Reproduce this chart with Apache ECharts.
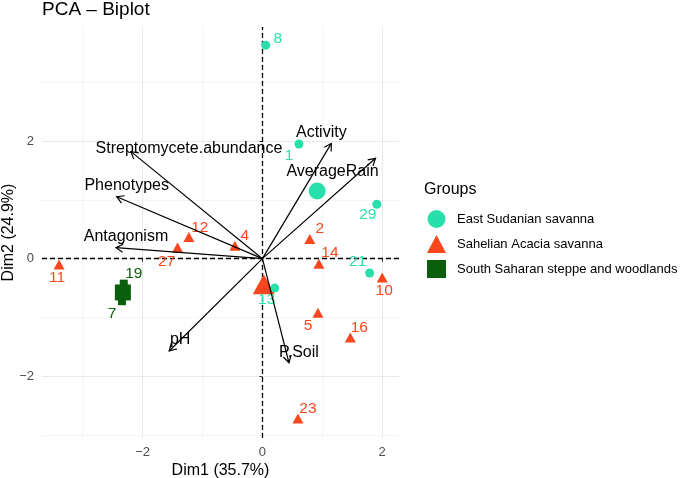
<!DOCTYPE html>
<html>
<head>
<meta charset="utf-8">
<script src="https://cdn.jsdelivr.net/npm/echarts@6/dist/echarts.min.js"></script>
<style>
html, body { margin: 0; padding: 0; background: #ffffff; }
#chart { width: 685px; height: 478px; }
</style>
</head>
<body>
<div id="chart"></div>
<script>
// groups
const groupNames = ['East Sudanian savanna', 'Sahelian Acacia savanna', 'South Saharan steppe and woodlands'];

// individuals
const eastIds = ['8', '1', '29', '21', '13'];
const eastX = [0.055, 0.61, 1.91, 1.79, 0.205];
const eastY = [3.63, 1.95, 0.925, -0.243, -0.50];

const sahelIds = ['11', '27', '12', '4', '2', '14', '10', '5', '16', '23'];
const sahelX = [-3.395, -1.417, -1.228, -0.46, 0.79, 0.943, 2.0, 0.927, 1.467, 0.593];
const sahelY = [-0.10, 0.19, 0.37, 0.22, 0.335, -0.085, -0.32, -0.92, -1.34, -2.72];

const saharaIds = ['19', '7'];
const saharaX = [-2.315, -2.345];
const saharaY = [-0.425, -0.724];

// group means (big symbols)
const centroidX = [0.914, 0.022, -2.33];
const centroidY = [1.152, -0.437, -0.575];

// variables (arrow tips)
const varNames = ['Streptomycete.abundance', 'Phenotypes', 'Antagonism', 'Activity', 'AverageRain', 'pH', 'P.Soil'];
const varX = [-2.195, -2.433, -2.445, 1.15, 1.888, -1.557, 0.443];
const varY = [1.82, 1.054, 0.187, 1.96, 1.707, -1.57, -1.77];

const xTicks = [-2, 0, 2];
const yTicks = [-2, 0, 2];
const xMinor = [-3, -1, 1];
const yMinor = [-3, -1, 1, 3];

const colors = ['#27DFAA', '#F8461E', '#0B5E0B'];
const font = '"Liberation Sans", Arial, Helvetica, sans-serif';

// pixel offsets for the text next to points / arrows
const pointLabelShift = {
    '8': [12, -7], '1': [-10, 12], '29': [-9, 10], '21': [-12, -11], '13': [-8, 12],
    '11': [-2, 13], '27': [-11, 14], '12': [11, -9], '4': [10, -10], '2': [10, -10],
    '14': [11, -11], '10': [2, 13], '5': [-10, 13], '16': [9, -10], '23': [10, -10],
    '19': [10, -10], '7': [-10, 12]
};
const varLabelShift = [[58, -3], [10, -11], [10, -11], [-10, -11], [-43, 13], [11, -11], [10, -10]];

const minus = v => (v < 0 ? '\u2212' + Math.abs(v) : String(v));

function pointData(ids, xs, ys, gi, bigSize) {
    const d = ids.map((id, i) => ({
        name: id,
        value: [xs[i], ys[i]],
        label: {offset: pointLabelShift[id]}
    }));
    d.push({
        name: '',
        value: [centroidX[gi], centroidY[gi]],
        symbolSize: bigSize,
        label: {show: false}
    });
    return d;
}

const chart = echarts.init(document.getElementById('chart'));

const majorLine = {color: '#E6EAEA', width: 1.1, type: 'solid'};
const minorLine = {color: '#EDF0F0', width: 0.6, type: 'solid'};

const pointLabel = color => ({
    show: true,
    position: 'inside',
    formatter: p => p.name,
    color: color,
    textBorderWidth: 0,
    fontSize: 15.5,
    fontFamily: font
});

const option = {
    animation: false,
    backgroundColor: '#ffffff',
    title: [
        {
            text: 'PCA \u2013 Biplot',
            left: 42,
            top: 0,
            padding: 0,
            textStyle: {fontSize: 19, fontWeight: 'normal', color: '#000', fontFamily: font}
        },
        {
            text: 'Groups',
            left: 424,
            top: 182,
            padding: 0,
            textStyle: {fontSize: 16, fontWeight: 'normal', color: '#000', fontFamily: font}
        }
    ],
    legend: {
        data: groupNames,
        orient: 'vertical',
        left: 427,
        top: 210,
        itemWidth: 19,
        itemHeight: 18,
        itemGap: 7,
        padding: 0,
        textStyle: {fontSize: 13, color: '#000', fontFamily: font, padding: [0, 0, 0, 6]}
    },
    grid: {left: 42, right: 286, top: 27, bottom: 40, outerBoundsMode: 'none', containLabel: false},
    xAxis: {
        type: 'value',
        min: -3.68,
        max: 2.28,
        name: 'Dim1 (35.7%)',
        nameLocation: 'middle',
        nameGap: 25,
        nameMoveOverlap: false,
        nameTextStyle: {fontSize: 16, color: '#000', fontFamily: font},
        axisLine: {show: false},
        axisTick: {show: true, length: 3, customValues: xTicks, lineStyle: {color: '#333'}},
        axisLabel: {customValues: xTicks, margin: 8, fontSize: 13, color: '#4D4D4D', fontFamily: font, formatter: minus},
        splitLine: {show: false}
    },
    yAxis: {
        type: 'value',
        min: -3.05,
        max: 3.94,
        name: 'Dim2 (24.9%)',
        nameLocation: 'middle',
        nameGap: 25,
        nameMoveOverlap: false,
        nameTextStyle: {fontSize: 16, color: '#000', fontFamily: font},
        axisLine: {show: false},
        axisTick: {show: true, length: 3, customValues: yTicks, lineStyle: {color: '#333'}},
        axisLabel: {customValues: yTicks, margin: 8, fontSize: 13, color: '#4D4D4D', fontFamily: font, formatter: minus},
        splitLine: {show: false}
    },
    series: [
        {
            // panel grid
            type: 'scatter',
            data: [],
            silent: true,
            z: 0,
            markLine: {
                silent: true,
                z: 0,
                symbol: 'none',
                label: {show: false},
                data: [
                    ...xMinor.map(v => ({xAxis: v, lineStyle: minorLine})),
                    ...yMinor.map(v => ({yAxis: v, lineStyle: minorLine})),
                    ...xTicks.map(v => ({xAxis: v, lineStyle: majorLine})),
                    ...yTicks.map(v => ({yAxis: v, lineStyle: majorLine}))
                ]
            }
        },
        {
            // dashed zero lines
            type: 'scatter',
            data: [],
            silent: true,
            z: 1,
            markLine: {
                silent: true,
                z: 1,
                symbol: 'none',
                label: {show: false},
                lineStyle: {color: '#000', width: 1.3, type: [5, 3]},
                data: [{xAxis: 0}, {yAxis: 0}]
            }
        },
        {
            name: groupNames[0],
            type: 'scatter',
            z: 3,
            symbol: 'circle',
            symbolSize: 9,
            itemStyle: {color: colors[0], opacity: 1},
            label: pointLabel(colors[0]),
            data: pointData(eastIds, eastX, eastY, 0, 17)
        },
        {
            name: groupNames[1],
            type: 'scatter',
            z: 2,
            symbol: 'triangle',
            symbolSize: [11, 10],
            itemStyle: {color: colors[1], opacity: 1},
            label: pointLabel(colors[1]),
            data: pointData(sahelIds, sahelX, sahelY, 1, [22, 20])
        },
        {
            name: groupNames[2],
            type: 'scatter',
            z: 2,
            symbol: 'rect',
            symbolSize: 8,
            itemStyle: {color: colors[2], opacity: 1},
            label: pointLabel(colors[2]),
            data: pointData(saharaIds, saharaX, saharaY, 2, 16)
        },
        {
            // variable arrows
            type: 'custom',
            z: 5,
            silent: true,
            data: varNames.map((n, i) => [varX[i], varY[i]]),
            renderItem: (params, api) => {
                const i = params.dataIndex;
                const o = api.coord([0, 0]);
                const t = api.coord([api.value(0), api.value(1)]);
                const ang = Math.atan2(t[1] - o[1], t[0] - o[0]);
                const L = 8, a = Math.PI / 6;
                const p1 = [t[0] - L * Math.cos(ang - a), t[1] - L * Math.sin(ang - a)];
                const p2 = [t[0] - L * Math.cos(ang + a), t[1] - L * Math.sin(ang + a)];
                const sh = varLabelShift[i];
                return {
                    type: 'group',
                    children: [
                        {type: 'line', shape: {x1: o[0], y1: o[1], x2: t[0], y2: t[1]}, style: {stroke: '#000', lineWidth: 1.2}},
                        {type: 'polyline', shape: {points: [p1, t, p2]}, style: {stroke: '#000', lineWidth: 1.2, fill: null}},
                        {
                            type: 'text',
                            x: t[0] + sh[0],
                            y: t[1] + sh[1],
                            style: {text: varNames[i], align: 'center', verticalAlign: 'middle', fontSize: 16, fontFamily: font, fill: '#000'}
                        }
                    ]
                };
            }
        }
    ]
};

chart.setOption(option);
</script>
</body>
</html>
